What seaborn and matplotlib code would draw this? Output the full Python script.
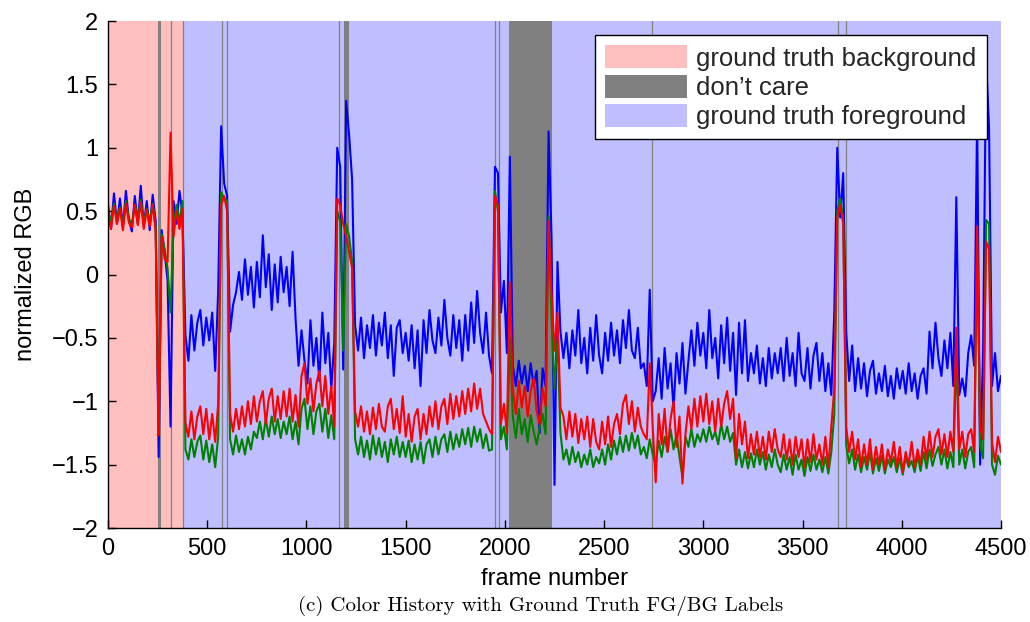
import numpy as np
import pandas as pd
import matplotlib
matplotlib.use("Agg")
import matplotlib.pyplot as plt
import seaborn as sns
from matplotlib.patches import Patch

# frame index, one sample every 15 frames
frames = np.arange(0, 4501, 15)

blue = [
    0.55, 0.36, 0.64, 0.40, 0.60, 0.37, 0.66, 0.43, 0.34, 0.62, 0.40, 0.70, 0.38, 0.58, 0.35, 0.63, 0.42, -1.44, 0.35, 0.18,
    -0.05, -1.20, 0.58, 0.40, 0.66, 0.48, -0.48, -0.68, -0.32, -0.60, -0.38, -0.28, -0.56, -0.34, -0.52, -0.30, -0.76, -0.13, 1.17, 0.72,
    0.62, -0.45, -0.24, -0.14, 0.02, -0.20, 0.12, -0.16, 0.06, -0.26, 0.10, -0.18, 0.31, -0.10, 0.16, -0.28, 0.08, -0.22, 0.14, -0.14,
    0.06, -0.25, 0.18, -0.35, -0.72, -0.44, -0.68, -0.86, -0.36, -0.72, -0.50, -0.84, -0.30, -0.70, -0.46, -0.90, -0.54, 1.00, 0.85, -0.75,
    1.37, 1.10, 0.75, -0.40, -0.60, -0.34, -0.66, -0.40, -0.58, -0.32, -0.64, -0.38, -0.56, -0.30, -0.66, -0.40, -0.80, -0.42, -0.36, -0.62,
    -0.46, -0.68, -0.40, -0.74, -0.44, -0.88, -0.36, -0.62, -0.28, -0.52, -0.62, -0.34, -0.56, -0.20, -0.50, -0.64, -0.32, -0.58, -0.36, -0.68,
    -0.32, -0.60, -0.22, -0.54, -0.13, -0.46, -0.62, -0.30, -0.64, -0.78, 0.85, 0.80, -0.30, -0.05, -0.62, 0.93, -0.72, -0.88, -0.68, -0.86,
    -0.72, -0.92, -0.70, -0.88, -0.76, -1.25, -0.74, -0.88, 1.13, 0.30, -1.66, 0.10, -0.45, -0.66, -0.46, -0.74, -0.44, -0.64, -0.28, -0.70,
    -0.50, -0.78, -0.42, -0.68, -0.32, -0.64, -0.78, -0.46, -0.68, -0.38, -0.64, -0.44, -0.70, -0.36, -0.58, -0.28, -0.60, -0.66, -0.42, -0.74,
    -0.70, -0.88, -0.12, -1.00, -0.92, -0.66, -0.98, -0.58, -0.90, -0.70, -1.06, -0.62, -0.86, -0.54, -0.94, -0.68, -0.44, -0.72, -0.38, -0.64,
    -0.46, -0.74, -0.28, -0.66, -0.50, -0.82, -0.40, -0.70, -0.34, -0.76, -0.46, -0.95, -0.38, -0.78, -0.36, -0.84, -0.62, -0.78, -0.56, -0.86,
    -0.66, -0.88, -0.58, -0.82, -0.62, -0.78, -0.58, -0.84, -0.50, -0.80, -0.62, -0.88, -0.46, -0.78, -0.84, -0.58, -0.90, -0.64, -0.54, -0.84,
    -0.62, -0.92, -0.70, -0.95, -0.30, 1.00, 0.45, 0.80, -0.45, -0.84, -0.56, -0.92, -0.66, -0.90, -0.70, -0.96, -0.76, -0.68, -0.94, -0.78,
    -0.92, -0.72, -0.96, -0.80, -0.98, -0.74, -0.90, -0.76, -0.94, -0.70, -0.92, -0.78, -0.98, -0.80, -0.74, -0.94, -0.45, -0.74, -0.38, -0.66,
    -0.80, -0.52, -0.74, -0.46, -0.88, 0.61, -0.95, -0.82, -0.96, -0.62, -0.48, -0.72, 1.25, -1.50, -0.60, 1.70, 1.16, -0.88, -0.62, -0.92,
    -0.80,
]

red = [
    0.47, 0.36, 0.54, 0.40, 0.52, 0.35, 0.56, 0.41, 0.37, 0.55, 0.39, 0.57, 0.36, 0.51, 0.38, 0.55, 0.34, -1.27, 0.30, 0.12,
    0.10, 1.12, 0.30, 0.50, 0.36, 0.52, -1.17, -1.28, -1.08, -1.30, -1.12, -1.04, -1.26, -1.06, -1.30, -1.10, -1.32, -1.02, 0.55, 0.62,
    0.50, -1.10, -1.24, -1.06, -1.22, -1.04, -1.20, -1.00, -1.18, -0.96, -1.16, -1.00, -0.92, -1.18, -0.98, -0.90, -1.16, -0.96, -1.14, -0.92,
    -1.12, -0.90, -1.16, -0.95, -1.20, -0.80, -0.70, -1.02, -0.82, -1.08, -0.86, -0.76, -1.04, -0.80, -1.10, -0.88, -1.20, 0.60, 0.55, 0.40,
    0.30, 0.18, 0.05, -1.08, -1.20, -1.04, -1.24, -1.08, -1.26, -1.05, -1.22, -1.02, -1.20, -1.24, -1.04, -0.98, -1.22, -1.06, -1.25, -0.96,
    -1.28, -1.10, -1.32, -1.12, -1.06, -1.30, -1.10, -1.26, -1.04, -1.20, -1.00, -1.22, -1.04, -0.98, -1.18, -0.94, -1.14, -0.96, -1.12, -0.92,
    -1.10, -0.90, -1.08, -0.86, -1.06, -0.90, -1.10, -1.16, -1.22, -1.26, 0.62, 0.55, -1.18, -1.02, -1.25, -0.06, -0.90, -1.10, -0.84, -1.05,
    -0.88, -1.12, -0.92, -0.82, -1.08, -1.18, -0.90, -1.04, 0.42, -0.15, -0.60, -0.30, -1.05, -1.12, -1.30, -1.08, -1.28, -1.10, -1.33, -1.14,
    -1.30, -1.12, -1.36, -1.14, -1.32, -1.38, -1.16, -1.34, -1.12, -1.36, -1.18, -1.10, -1.26, -1.02, -0.95, -1.18, -1.00, -1.24, -1.05, -1.20,
    -1.26, -1.30, -0.70, -1.20, -1.64, -1.10, -1.34, -1.06, -1.40, -1.14, -1.00, -1.36, -1.12, -1.65, -1.26, -1.04, -1.22, -0.98, -1.20, -0.96,
    -1.16, -0.94, -1.18, -1.00, -1.24, -0.98, -1.20, -1.02, -0.92, -1.14, -0.98, -1.45, -1.10, -1.34, -1.16, -1.45, -1.26, -1.42, -1.24, -1.44,
    -1.28, -1.46, -1.24, -1.40, -1.22, -1.38, -1.44, -1.26, -1.46, -1.30, -1.50, -1.28, -1.44, -1.30, -1.52, -1.30, -1.48, -1.26, -1.46, -1.34,
    -1.50, -1.28, -1.52, -1.20, -0.90, 0.45, 0.55, 0.40, -1.20, -1.40, -1.24, -1.46, -1.30, -1.52, -1.34, -1.50, -1.30, -1.54, -1.36, -1.50,
    -1.34, -1.54, -1.38, -1.48, -1.32, -1.52, -1.36, -1.56, -1.40, -1.50, -1.32, -1.52, -1.38, -1.50, -1.28, -1.46, -1.24, -1.44, -1.28, -1.22,
    -1.42, -1.26, -1.44, -1.24, -1.40, -0.42, -1.38, -1.24, -1.44, -1.26, -1.22, -1.40, 0.38, -1.20, -1.30, 0.26, 0.20, -1.32, -1.48, -1.28,
    -1.40,
]

green = [
    0.50, 0.41, 0.56, 0.43, 0.53, 0.39, 0.58, 0.44, 0.40, 0.55, 0.43, 0.59, 0.41, 0.52, 0.42, 0.56, 0.38, -1.25, 0.32, 0.20,
    0.05, -0.30, 0.38, 0.55, 0.42, 0.58, -1.38, -1.46, -1.30, -1.44, -1.32, -1.27, -1.46, -1.31, -1.48, -1.34, -1.52, -1.28, 0.65, 0.60,
    0.58, -1.30, -1.42, -1.27, -1.40, -1.30, -1.42, -1.28, -1.38, -1.24, -1.29, -1.16, -1.30, -1.14, -1.28, -1.12, -1.26, -1.14, -1.29, -1.16,
    -1.26, -1.12, -1.30, -1.16, -1.34, -1.06, -0.98, -1.22, -1.04, -1.26, -1.08, -1.02, -1.24, -1.06, -1.29, -1.11, -1.30, 0.50, 0.42, -0.60,
    0.40, 0.30, 0.10, -1.30, -1.42, -1.28, -1.44, -1.31, -1.46, -1.27, -1.42, -1.29, -1.44, -1.32, -1.48, -1.30, -1.42, -1.28, -1.44, -1.32,
    -1.44, -1.31, -1.48, -1.34, -1.46, -1.32, -1.49, -1.34, -1.30, -1.44, -1.28, -1.42, -1.30, -1.26, -1.40, -1.24, -1.38, -1.26, -1.36, -1.22,
    -1.34, -1.21, -1.36, -1.20, -1.32, -1.22, -1.37, -1.26, -1.39, -1.38, 0.66, 0.50, -1.30, -1.20, -1.38, -0.50, -1.12, -1.29, -1.06, -1.26,
    -1.14, -1.32, -1.11, -1.24, -1.34, -1.21, -1.10, -1.26, 0.46, -0.35, -0.90, -0.50, -1.25, -1.46, -1.38, -1.50, -1.36, -1.48, -1.40, -1.52,
    -1.42, -1.50, -1.38, -1.52, -1.44, -1.49, -1.38, -1.50, -1.34, -1.46, -1.31, -1.42, -1.28, -1.40, -1.27, -1.39, -1.25, -1.37, -1.27, -1.42,
    -1.36, -1.45, -1.30, -1.42, -1.50, -1.31, -1.44, -1.28, -1.40, -1.22, -1.38, -1.26, -1.44, -1.60, -1.28, -1.36, -1.22, -1.36, -1.26, -1.32,
    -1.22, -1.32, -1.20, -1.30, -1.24, -1.34, -1.18, -1.30, -1.20, -1.32, -1.25, -1.50, -1.38, -1.52, -1.40, -1.53, -1.41, -1.52, -1.38, -1.50,
    -1.40, -1.54, -1.42, -1.52, -1.38, -1.50, -1.56, -1.42, -1.54, -1.44, -1.58, -1.42, -1.54, -1.46, -1.59, -1.44, -1.55, -1.42, -1.54, -1.46,
    -1.56, -1.44, -1.57, -1.40, -1.10, 0.50, 0.60, 0.45, -1.35, -1.49, -1.38, -1.54, -1.42, -1.56, -1.44, -1.54, -1.40, -1.57, -1.45, -1.55,
    -1.43, -1.57, -1.46, -1.52, -1.44, -1.56, -1.45, -1.58, -1.44, -1.52, -1.47, -1.56, -1.43, -1.55, -1.40, -1.53, -1.38, -1.51, -1.42, -1.36,
    -1.50, -1.38, -1.53, -1.40, -1.52, -0.60, -1.50, -1.38, -1.53, -1.40, -1.36, -1.52, 0.30, -1.35, -1.45, 0.43, 0.40, -1.50, -1.58, -1.43,
    -1.50,
]

# ground truth labels (frame ranges)
bg_span = (0, 380)
fg_span = (380, 4500)
dont_care = [(254, 266), (315, 317), (378, 380), (571, 573), (596, 598), (1161, 1163),
             (1191, 1213), (1947, 1949), (1969, 1971), (2022, 2238), (2738, 2740),
             (3676, 3678), (3716, 3718)]

yticks = [-2, -1.5, -1, -0.5, 0, 0.5, 1, 1.5, 2]
ytick_labels = ["\u22122", "\u22121.5", "\u22121", "\u22120.5", "0", "0.5", "1", "1.5", "2"]
xticks = [0, 500, 1000, 1500, 2000, 2500, 3000, 3500, 4000, 4500]

sns.set_theme(style="white")
plt.rcParams["font.family"] = ["Liberation Sans", "DejaVu Sans"]

df = pd.DataFrame({"frame": frames, "blue": blue, "red": red, "green": green})

fig = plt.figure(figsize=(10.3, 6.22), dpi=100)
ax = fig.add_axes([0.1049, 0.1511, 0.8669, 0.8151])

pink = "#ffbfbf"
grey = "#808080"
lav = "#bfbfff"

ax.axvspan(*bg_span, color=pink, lw=0, zorder=0)
ax.axvspan(*fg_span, color=lav, lw=0, zorder=0)
for a, b in dont_care:
    if b - a > 5:
        ax.axvspan(a, b, color=grey, lw=0, zorder=0.5)
    else:
        ax.axvline((a + b) / 2, color=grey, lw=0.9, zorder=0.5)

sns.lineplot(data=df, x="frame", y="blue", color="#0000ff", lw=1.5, estimator=None, ax=ax)
sns.lineplot(data=df, x="frame", y="green", color="#008000", lw=1.5, estimator=None, ax=ax)
sns.lineplot(data=df, x="frame", y="red", color="#ff0000", lw=1.5, estimator=None, ax=ax)

ax.set_xlim(0, 4500)
ax.set_ylim(-2, 2)
ax.set_xticks(xticks)
ax.set_xticklabels([str(t) for t in xticks])
ax.set_yticks(yticks)
ax.set_yticklabels(ytick_labels)
ax.tick_params(direction="in", length=6, width=1, labelsize=17, colors="black",
               left=True, bottom=True, pad=7)
for s in ["top", "right"]:
    ax.spines[s].set_visible(False)
for s in ["left", "bottom"]:
    ax.spines[s].set_color("black")
    ax.spines[s].set_linewidth(1)

ax.set_xlabel("frame number", fontsize=17, labelpad=6, color="black")
ax.set_ylabel("normalized RGB", fontsize=17, labelpad=11, color="black")

handles = [Patch(facecolor=pink, edgecolor="none", label="ground truth background"),
           Patch(facecolor=grey, edgecolor="none", label="don\u2019t care"),
           Patch(facecolor=lav, edgecolor="none", label="ground truth foreground")]
leg = ax.legend(handles=handles, loc="upper right", bbox_to_anchor=(0.984, 0.972),
                fontsize=18.5, frameon=True, fancybox=False, framealpha=1,
                edgecolor="black", handlelength=3.2, handleheight=1.0,
                labelspacing=0.15, borderpad=0.4, handletextpad=0.35,
                borderaxespad=0)
leg.get_frame().set_linewidth(1)
leg.set_zorder(5)

fig.text(0.525, 0.026, "(c) Color History with Ground Truth FG/BG Labels",
         ha="center", va="center", fontsize=15, family="cmr10", color="black")

fig.savefig("out.png", dpi=100)
